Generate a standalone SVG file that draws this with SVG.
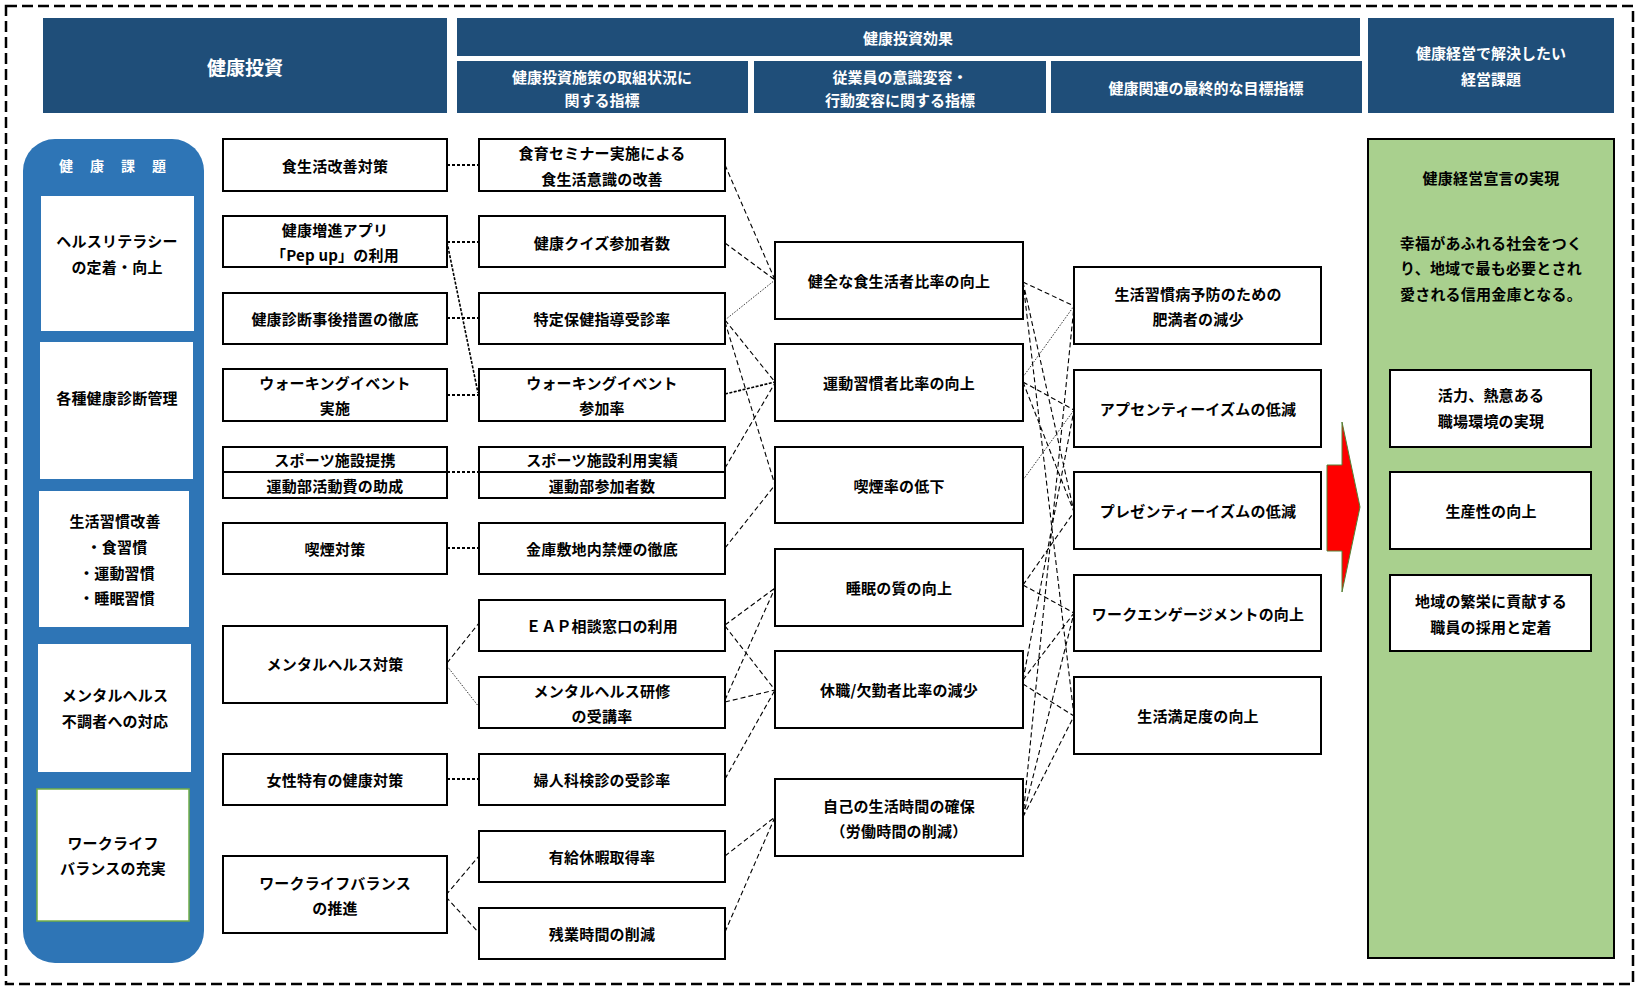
<svg xmlns="http://www.w3.org/2000/svg" width="1636" height="986" viewBox="0 0 1636 986">
<style>
.bg{fill:#fff}
.hdr{fill:#1F4E79}
.ht{font-family:"Noto Sans CJK JP","Noto Sans",sans-serif;font-size:15px;font-weight:700;fill:#fff;text-anchor:middle;dominant-baseline:central}
.box{fill:#fff;stroke:#000;stroke-width:2}
.lbox{fill:#fff}
.t{font-family:"Noto Sans CJK JP","Noto Sans",sans-serif;font-size:15px;font-weight:700;fill:#000;text-anchor:middle;dominant-baseline:central;letter-spacing:0.2px}
.ch{fill:none;stroke:#000;stroke-width:2;stroke-dasharray:3 2}
.cd{fill:none;stroke:#000;stroke-width:1.1;stroke-dasharray:5 3}
.cf{fill:none;stroke:#333;stroke-width:1;stroke-dasharray:1.5 1.5}
.cdd{fill:none;stroke:#000;stroke-width:1.6;stroke-dasharray:3 1.5}
</style>
<rect class="bg" x="0" y="0" width="1636" height="986"/>
<rect x="6" y="6" width="1627" height="978" fill="none" stroke="#000" stroke-width="2.5" stroke-dasharray="11 5"/>

<!-- headers -->
<g id="h-invest"><rect class="hdr" x="43" y="18" width="404" height="95"/><text class="ht" x="245" y="66" style="font-size:19px">健康投資</text></g>
<g id="h-effect"><rect class="hdr" x="457" y="18" width="903" height="38"/><text class="ht" x="908" y="37">健康投資効果</text></g>
<g id="h-sub1"><rect class="hdr" x="457" y="61" width="291" height="52"/><text class="ht" x="602" y="76">健康投資施策の取組状況に</text><text class="ht" x="602" y="99">関する指標</text></g>
<g id="h-sub2"><rect class="hdr" x="754" y="61" width="292" height="52"/><text class="ht" x="900" y="76">従業員の意識変容・</text><text class="ht" x="900" y="99">行動変容に関する指標</text></g>
<g id="h-sub3"><rect class="hdr" x="1051" y="61" width="311" height="52"/><text class="ht" x="1206" y="87">健康関連の最終的な目標指標</text></g>
<g id="h-issue"><rect class="hdr" x="1368" y="18" width="246" height="95"/><text class="ht" x="1491" y="52">健康経営で解決したい</text><text class="ht" x="1491" y="78">経営課題</text></g>

<!-- left panel -->
<g id="kadai">
<rect x="23" y="139" width="181" height="824" rx="32" fill="#2E75B6"/>
<text class="ht" x="113" y="165" style="font-size:14px;letter-spacing:17px" dx="8">健康課題</text>
</g>
<g id="k1"><rect class="lbox" x="41" y="196" width="153" height="135"/><text class="t" x="117" y="240">ヘルスリテラシー</text><text class="t" x="117" y="266">の定着・向上</text></g>
<g id="k2"><rect class="lbox" x="40" y="342" width="153" height="137"/><text class="t" x="117" y="397">各種健康診断管理</text></g>
<g id="k3"><rect class="lbox" x="39" y="491" width="150" height="136"/><text class="t" x="115" y="520">生活習慣改善</text><text class="t" x="117" y="546">・食習慣</text><text class="t" x="117" y="572">・運動習慣</text><text class="t" x="117" y="597">・睡眠習慣</text></g>
<g id="k4"><rect class="lbox" x="38" y="644" width="153" height="128"/><text class="t" x="115" y="694">メンタルヘルス</text><text class="t" x="115" y="720">不調者への対応</text></g>
<g id="k5"><rect class="lbox" x="37" y="789" width="152" height="132" stroke="#70AD47" stroke-width="1.5"/><text class="t" x="113" y="842">ワークライフ</text><text class="t" x="113" y="867">バランスの充実</text></g>

<!-- connectors -->
<g id="connectors">
<path class="ch" d="M447 165H479M447 242H479M447 318H479M447 395H479M447 472H479M447 548H479M447 779H479"/>
<path class="cdd" d="M447 242L478 393"/>
<path class="cd" d="M447 663L479 623"/>
<path class="cf" d="M447 666L479 707"/>
<path class="cd" d="M446 895L479 856M446 897L479 933"/>

<path class="cd" d="M725 165L775 280M725 243L775 280M725 320L775 382M725 322L775 485M725 468L775 383M725 548L775 485"/>
<path class="cf" d="M725 320L775 280"/>
<path class="cdd" d="M725 394L775 382"/>
<path class="cd" d="M725 625L775 588M725 626L775 690M725 700L775 588M725 702L775 690M725 779L775 690M725 856L775 817M725 932L775 817"/>

<path class="cd" d="M1023 282L1074 306M1023 282L1074 512M1023 282L1074 716M1023 382L1074 410M1023 382L1074 512M1023 585L1074 512M1023 585L1074 613M1023 680L1074 410M1023 680L1074 613M1023 684L1074 716M1023 817L1074 306M1023 817L1074 613M1023 817L1074 716"/>
<path class="cf" d="M1023 377L1074 306M1023 480L1074 410"/>
</g>

<!-- column 2 -->
<g id="a1"><rect class="box" x="223" y="139" width="224" height="52"/><text class="t" x="335" y="165">食生活改善対策</text></g>
<g id="a2"><rect class="box" x="223" y="216" width="224" height="51"/><text class="t" x="335" y="229">健康増進アプリ</text><text class="t" x="335" y="254">「Pep up」の利用</text></g>
<g id="a3"><rect class="box" x="223" y="293" width="224" height="51"/><text class="t" x="335" y="318">健康診断事後措置の徹底</text></g>
<g id="a4"><rect class="box" x="223" y="369" width="224" height="52"/><text class="t" x="335" y="382">ウォーキングイベント</text><text class="t" x="335" y="407">実施</text></g>
<g id="a5"><rect class="box" x="223" y="447" width="224" height="25"/><text class="t" x="335" y="459">スポーツ施設提携</text></g>
<g id="a6"><rect class="box" x="223" y="472" width="224" height="26"/><text class="t" x="335" y="485">運動部活動費の助成</text></g>
<g id="a7"><rect class="box" x="223" y="523" width="224" height="51"/><text class="t" x="335" y="548">喫煙対策</text></g>
<g id="a8"><rect class="box" x="223" y="626" width="224" height="77"/><text class="t" x="335" y="663">メンタルヘルス対策</text></g>
<g id="a9"><rect class="box" x="223" y="754" width="224" height="51"/><text class="t" x="335" y="779">女性特有の健康対策</text></g>
<g id="a10"><rect class="box" x="223" y="856" width="224" height="77"/><text class="t" x="335" y="882">ワークライフバランス</text><text class="t" x="335" y="907">の推進</text></g>

<!-- column 3 -->
<g id="b1"><rect class="box" x="479" y="139" width="246" height="52"/><text class="t" x="602" y="152">食育セミナー実施による</text><text class="t" x="602" y="178">食生活意識の改善</text></g>
<g id="b2"><rect class="box" x="479" y="216" width="246" height="51"/><text class="t" x="602" y="242">健康クイズ参加者数</text></g>
<g id="b3"><rect class="box" x="479" y="293" width="246" height="51"/><text class="t" x="602" y="318">特定保健指導受診率</text></g>
<g id="b4"><rect class="box" x="479" y="369" width="246" height="52"/><text class="t" x="602" y="382">ウォーキングイベント</text><text class="t" x="602" y="407">参加率</text></g>
<g id="b5"><rect class="box" x="479" y="447" width="246" height="25"/><text class="t" x="602" y="459">スポーツ施設利用実績</text></g>
<g id="b6"><rect class="box" x="479" y="472" width="246" height="26"/><text class="t" x="602" y="485">運動部参加者数</text></g>
<g id="b7"><rect class="box" x="479" y="523" width="246" height="51"/><text class="t" x="602" y="548">金庫敷地内禁煙の徹底</text></g>
<g id="b8"><rect class="box" x="479" y="600" width="246" height="51"/><text class="t" x="602" y="625">ＥＡＰ相談窓口の利用</text></g>
<g id="b9"><rect class="box" x="479" y="677" width="246" height="51"/><text class="t" x="602" y="690">メンタルヘルス研修</text><text class="t" x="602" y="715">の受講率</text></g>
<g id="b10"><rect class="box" x="479" y="754" width="246" height="51"/><text class="t" x="602" y="779">婦人科検診の受診率</text></g>
<g id="b11"><rect class="box" x="479" y="831" width="246" height="51"/><text class="t" x="602" y="856">有給休暇取得率</text></g>
<g id="b12"><rect class="box" x="479" y="908" width="246" height="51"/><text class="t" x="602" y="933">残業時間の削減</text></g>

<!-- column 4 -->
<g id="c1"><rect class="box" x="775" y="242" width="248" height="77"/><text class="t" x="899" y="280">健全な食生活者比率の向上</text></g>
<g id="c2"><rect class="box" x="775" y="344" width="248" height="77"/><text class="t" x="899" y="382">運動習慣者比率の向上</text></g>
<g id="c3"><rect class="box" x="775" y="447" width="248" height="76"/><text class="t" x="899" y="485">喫煙率の低下</text></g>
<g id="c4"><rect class="box" x="775" y="549" width="248" height="77"/><text class="t" x="899" y="587">睡眠の質の向上</text></g>
<g id="c5"><rect class="box" x="775" y="651" width="248" height="77"/><text class="t" x="899" y="689">休職/欠勤者比率の減少</text></g>
<g id="c6"><rect class="box" x="775" y="779" width="248" height="77"/><text class="t" x="899" y="805">自己の生活時間の確保</text><text class="t" x="899" y="830">（労働時間の削減）</text></g>

<!-- column 5 -->
<g id="d1"><rect class="box" x="1074" y="267" width="247" height="77"/><text class="t" x="1198" y="293">生活習慣病予防のための</text><text class="t" x="1198" y="318">肥満者の減少</text></g>
<g id="d2"><rect class="box" x="1074" y="370" width="247" height="77"/><text class="t" x="1198" y="408">アプセンティーイズムの低減</text></g>
<g id="d3"><rect class="box" x="1074" y="472" width="247" height="77"/><text class="t" x="1198" y="510">プレゼンティーイズムの低減</text></g>
<g id="d4"><rect class="box" x="1074" y="575" width="247" height="76"/><text class="t" x="1198" y="613">ワークエンゲージメントの向上</text></g>
<g id="d5"><rect class="box" x="1074" y="677" width="247" height="77"/><text class="t" x="1198" y="715">生活満足度の向上</text></g>

<!-- arrow -->
<g id="arrow"><polygon points="1327,465 1342,465 1342,422 1360,507 1342,592 1342,551 1327,551" fill="#FF0000" stroke="#548235" stroke-width="1"/></g>

<!-- green panel -->
<g id="goal">
<rect x="1368" y="139" width="246" height="819" fill="#A9D08E" stroke="#000" stroke-width="2"/>
<text class="t" x="1491" y="177">健康経営宣言の実現</text>
<text class="t" x="1491" y="242">幸福があふれる社会をつく</text>
<text class="t" x="1491" y="267">り、地域で最も必要とされ</text>
<text class="t" x="1491" y="293">愛される信用金庫となる。</text>
</g>
<g id="e1"><rect class="box" x="1390" y="370" width="201" height="77"/><text class="t" x="1491" y="394">活力、熱意ある</text><text class="t" x="1491" y="420">職場環境の実現</text></g>
<g id="e2"><rect class="box" x="1390" y="472" width="201" height="77"/><text class="t" x="1491" y="510">生産性の向上</text></g>
<g id="e3"><rect class="box" x="1390" y="575" width="201" height="76"/><text class="t" x="1491" y="600">地域の繁栄に貢献する</text><text class="t" x="1491" y="626">職員の採用と定着</text></g>
</svg>
